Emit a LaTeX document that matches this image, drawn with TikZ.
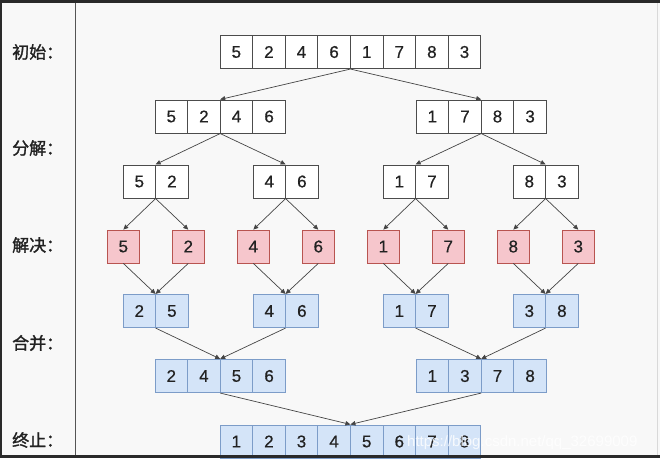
\documentclass[tikz,border=0pt]{standalone}
\usepackage{fontspec}
\setmainfont{Liberation Sans}
\newfontfamily\cjk[FakeBold=1.5]{Noto Sans CJK SC}
\newfontfamily\digitfont[FakeBold=0.6]{Liberation Sans}
\usetikzlibrary{arrows.meta,fit}
\definecolor{bgc}{HTML}{F8F8F8}
\definecolor{framec}{HTML}{2A2A2A}
\definecolor{linec}{HTML}{555555}
\definecolor{redfill}{HTML}{F6C6CC}
\definecolor{redline}{HTML}{B85450}
\definecolor{bluefill}{HTML}{D4E4F8}
\definecolor{blueline}{HTML}{7C9CC8}
\definecolor{arrowc}{HTML}{454545}
\definecolor{textc}{HTML}{222222}
\tikzset{
  cellw/.style={draw=black!70, fill=white, line width=0.7pt, minimum width=32.6pt, minimum height=33pt, inner sep=0pt, text=textc, font=\digitfont\fontsize{17}{17}\selectfont},
  cellr/.style={cellw, draw=redline, fill=redfill},
  cellb/.style={cellw, draw=blueline, fill=bluefill},
  grp/.style={inner sep=0pt, draw=none},
  arr/.style={draw=arrowc, line width=0.7pt, -{Triangle[length=5pt,width=4.5pt]}},
  lab/.style={anchor=west, text=textc, font=\cjk\fontsize{17}{17}\selectfont, inner sep=0pt},
}
% \cellrow{name}{style}{left x}{center y}{digits list}
\newcommand{\cellrow}[5]{%
  \foreach \d [count=\i] in {#5}{%
    \node[#2] (#1-\i) at ({#3+(\i-0.5)*32.6},#4) {\d};
  }%
}
\begin{document}
\begin{tikzpicture}[x=1pt,y=-1pt]
\useasboundingbox (0,0) rectangle (660,458);
\fill[bgc] (0,0) rectangle (660,458);
\fill[framec] (0,0) rectangle (660,3);
\fill[framec] (0,0) rectangle (2,458);
\draw[black!15, line width=0.8pt] (657.5,3) -- (657.5,455);
\draw[linec, line width=1pt] (75,3) -- (75,455);

% labels
\node[lab] (l1) at (12,52) {初始：};
\node[lab] (l2) at (12,148) {分解：};
\node[lab] (l3) at (12,245) {解决：};
\node[lab] (l4) at (12,343) {合并：};
\node[lab] (l5) at (12,440) {终止：};

% row 1
\cellrow{a}{cellw}{220}{52}{5,2,4,6,1,7,8,3}
\node[grp, fit=(a-1)(a-8)] (A) {};
% row 2
\cellrow{b1}{cellw}{155}{116.5}{5,2,4,6}
\node[grp, fit=(b1-1)(b1-4)] (B1) {};
\cellrow{b2}{cellw}{416}{116.5}{1,7,8,3}
\node[grp, fit=(b2-1)(b2-4)] (B2) {};
% row 3
\cellrow{c1}{cellw}{123}{181.5}{5,2}
\node[grp, fit=(c1-1)(c1-2)] (C1) {};
\cellrow{c2}{cellw}{253}{181.5}{4,6}
\node[grp, fit=(c2-1)(c2-2)] (C2) {};
\cellrow{c3}{cellw}{383}{181.5}{1,7}
\node[grp, fit=(c3-1)(c3-2)] (C3) {};
\cellrow{c4}{cellw}{513}{181.5}{8,3}
\node[grp, fit=(c4-1)(c4-2)] (C4) {};
% row 4
\node[cellr] (D1) at (123.3,246.5) {5};
\node[cellr] (D2) at (188.3,246.5) {2};
\node[cellr] (D3) at (253.3,246.5) {4};
\node[cellr] (D4) at (318.3,246.5) {6};
\node[cellr] (D5) at (383.3,246.5) {1};
\node[cellr] (D6) at (448.3,246.5) {7};
\node[cellr] (D7) at (513.3,246.5) {8};
\node[cellr] (D8) at (578.3,246.5) {3};
% row 5
\cellrow{e1}{cellb}{123}{311}{2,5}
\node[grp, fit=(e1-1)(e1-2)] (E1) {};
\cellrow{e2}{cellb}{253}{311}{4,6}
\node[grp, fit=(e2-1)(e2-2)] (E2) {};
\cellrow{e3}{cellb}{383}{311}{1,7}
\node[grp, fit=(e3-1)(e3-2)] (E3) {};
\cellrow{e4}{cellb}{513}{311}{3,8}
\node[grp, fit=(e4-1)(e4-2)] (E4) {};
% row 6
\cellrow{f1}{cellb}{155}{376}{2,4,5,6}
\node[grp, fit=(f1-1)(f1-4)] (F1) {};
\cellrow{f2}{cellb}{416}{376}{1,3,7,8}
\node[grp, fit=(f2-1)(f2-4)] (F2) {};
% row 7
\cellrow{g}{cellb}{220}{441.5}{1,2,3,4,5,6,7,8}
\node[grp, fit=(g-1)(g-8)] (G) {};

% arrows
\draw[arr] (A.south) -- (B1.north);
\draw[arr] (A.south) -- (B2.north);
\draw[arr] (B1.south) -- (C1.north);
\draw[arr] (B1.south) -- (C2.north);
\draw[arr] (B2.south) -- (C3.north);
\draw[arr] (B2.south) -- (C4.north);
\draw[arr] (C1.south) -- (D1.north);
\draw[arr] (C1.south) -- (D2.north);
\draw[arr] (C2.south) -- (D3.north);
\draw[arr] (C2.south) -- (D4.north);
\draw[arr] (C3.south) -- (D5.north);
\draw[arr] (C3.south) -- (D6.north);
\draw[arr] (C4.south) -- (D7.north);
\draw[arr] (C4.south) -- (D8.north);
\draw[arr] (D1.south) -- (E1.north);
\draw[arr] (D2.south) -- (E1.north);
\draw[arr] (D3.south) -- (E2.north);
\draw[arr] (D4.south) -- (E2.north);
\draw[arr] (D5.south) -- (E3.north);
\draw[arr] (D6.south) -- (E3.north);
\draw[arr] (D7.south) -- (E4.north);
\draw[arr] (D8.south) -- (E4.north);
\draw[arr] (E1.south) -- (F1.north);
\draw[arr] (E2.south) -- (F1.north);
\draw[arr] (E3.south) -- (F2.north);
\draw[arr] (E4.south) -- (F2.north);
\draw[arr] (F1.south) -- (G.north);
\draw[arr] (F2.south) -- (G.north);

% frame bottom over last row
\fill[framec] (0,455) rectangle (660,458);

% watermark
\node[anchor=base west, inner sep=0pt, text=white, opacity=0.8, font=\fontsize{15}{15}\selectfont] (wm) at (407,446) {https://blog.csdn.net/qq\_32699009};
\end{tikzpicture}
\end{document}
